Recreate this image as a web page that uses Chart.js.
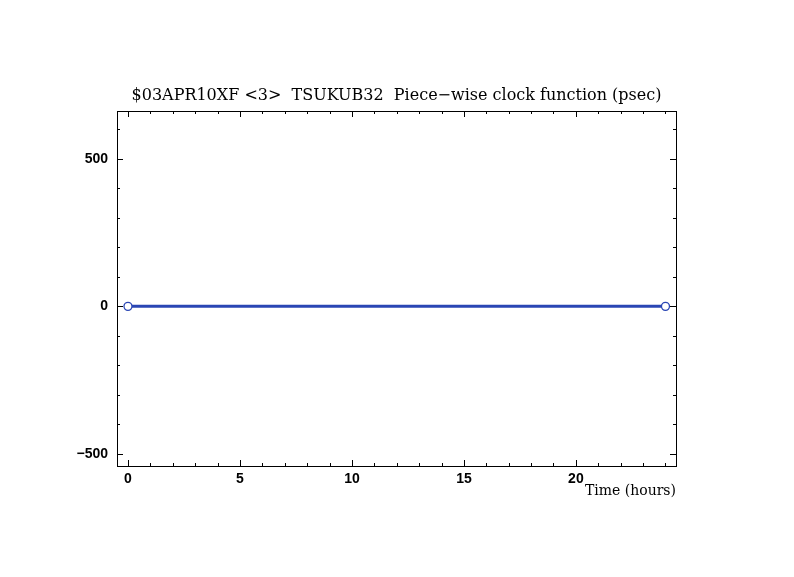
<!DOCTYPE html>
<html>
<head>
<meta charset="utf-8">
<script src="https://cdn.jsdelivr.net/npm/chart.js@4"></script>
<style>
  html, body { margin: 0; padding: 0; background: #fff; }
  #wrap { width: 794px; height: 577px; }
</style>
</head>
<body>
<div id="wrap"><canvas id="clock" width="794" height="577"></canvas></div>
<script>
// data
const hours = [0, 24];
const clockPsec = [0, 0];
const xTickValues = [0, 5, 10, 15, 20];
const yTickValues = [-500, 0, 500];
const titleText = '$03APR10XF <3>  TSUKUB32  Piece\u2212wise clock function (psec)';
const xAxisTitle = 'Time (hours)';

const lineBlue = '#2a46b4';

// PGPLOT-like frame: box on all sides with inward major/minor ticks
const frameTicks = {
    id: 'frameTicks',
    afterDraw(chart) {
        const { ctx, chartArea: a, scales } = chart;
        const x = scales.x, y = scales.y;
        ctx.save();
        ctx.strokeStyle = '#000';
        ctx.lineWidth = 1;
        ctx.strokeRect(Math.round(a.left) + 0.5, Math.round(a.top) + 0.5,
            Math.round(a.right - a.left), Math.round(a.bottom - a.top));
        ctx.beginPath();
        for (let v = Math.ceil(x.min); v <= x.max; v++) {
            const len = v % 5 === 0 ? 6 : 3;
            const px = Math.round(x.getPixelForValue(v)) + 0.5;
            ctx.moveTo(px, a.bottom); ctx.lineTo(px, a.bottom - len);
            ctx.moveTo(px, a.top); ctx.lineTo(px, a.top + len);
        }
        for (let v = Math.ceil(y.min / 100) * 100; v <= y.max; v += 100) {
            const len = v % 500 === 0 ? 6 : 3;
            const py = Math.round(y.getPixelForValue(v)) + 0.5;
            ctx.moveTo(a.left, py); ctx.lineTo(a.left + len, py);
            ctx.moveTo(a.right, py); ctx.lineTo(a.right - len, py);
        }
        ctx.stroke();

        ctx.fillStyle = '#000';
        ctx.font = '16px "DejaVu Serif"';
        ctx.textAlign = 'center';
        ctx.textBaseline = 'middle';
        ctx.fillText(titleText, (a.left + a.right) / 2, 96);
        ctx.font = '14px "DejaVu Serif"';
        ctx.textAlign = 'right';
        ctx.fillText(xAxisTitle, a.right, 491);
        ctx.restore();
    }
};

const tickFont = { family: '"Liberation Sans", Arial, sans-serif', size: 14, weight: 'bold' };

new Chart(document.getElementById('clock').getContext('2d'), {
    type: 'line',
    data: {
        labels: hours,
        datasets: [{
            data: hours.map((h, i) => ({ x: h, y: clockPsec[i] })),
            borderColor: lineBlue,
            borderWidth: 3,
            pointRadius: 4,
            pointBorderWidth: 1.3,
            pointBackgroundColor: '#fff',
            pointBorderColor: lineBlue,
            tension: 0
        }]
    },
    options: {
        responsive: false,
        animation: false,
        layout: { padding: { top: 111, right: 118, bottom: 0, left: 0 } },
        plugins: {
            legend: { display: false },
            title: { display: false },
            tooltip: { enabled: false }
        },
        scales: {
            x: {
                type: 'linear',
                min: -0.49,
                max: 24.47,
                afterBuildTicks: s => { s.ticks = xTickValues.map(v => ({ value: v })); },
                afterFit: s => { s.height = 111; },
                grid: { display: false, drawTicks: false },
                border: { display: false },
                ticks: { color: '#000', font: tickFont, padding: 5, maxRotation: 0 }
            },
            y: {
                type: 'linear',
                min: -541,
                max: 662,
                afterBuildTicks: s => { s.ticks = yTickValues.map(v => ({ value: v })); },
                afterFit: s => { s.width = 117; },
                grid: { display: false, drawTicks: false },
                border: { display: false },
                ticks: {
                    color: '#000', font: tickFont, padding: 9,
                    callback: v => String(v).replace('-', '\u2212')
                }
            }
        }
    },
    plugins: [frameTicks]
});
</script>
</body>
</html>
